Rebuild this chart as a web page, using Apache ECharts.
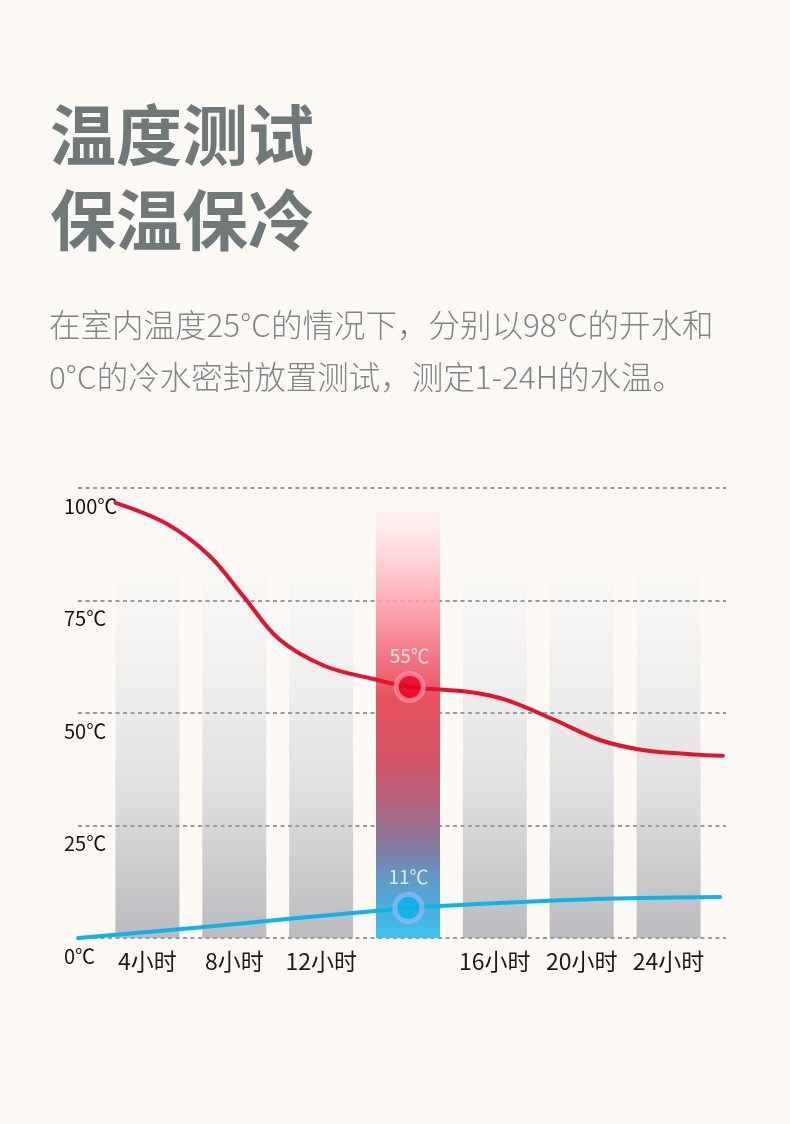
<!DOCTYPE html>
<html>
<head>
<meta charset="utf-8">
<script src="https://cdn.jsdelivr.net/npm/echarts@6/dist/echarts.min.js"></script>
<style>
html,body{margin:0;padding:0;background:#fdfaf6;}
#chart{width:790px;height:1124px;}
</style>
</head>
<body>
<div id="chart"></div>
<script>
// ---- data ----
const titleLines = ['温度测试', '保温保冷'];
const subtitleLines = ['在室内温度25°C的情况下，分别以98°C的开水和', '0°C的冷水密封放置测试，测定1-24H的水温。'];
const categories = ['4小时', '8小时', '12小时', '', '16小时', '20小时', '24小时'];
const grayBars = [88, 88, 88, '-', 88, 88, 88];
const highlightBar = ['-', '-', '-', 97, '-', '-', '-'];
const yTickLabels = ['0℃', '25℃', '50℃', '75℃', '100℃'];
// hot water curve: [hour, temperature]
const hotWater = [[1.4, 96.7], [3.3, 92.1], [4.9, 85.0], [6.2, 75.8], [7.5, 66.5],
  [9.2, 60.5], [11.0, 57.6], [12.4, 55.8], [14.7, 54.6], [16.0, 52.9],
  [17.8, 48.5], [19.5, 44.0], [21.1, 41.8], [23.0, 40.8], [24.1, 40.5]];
// cold water curve
const coldWater = [[0, 0], [4.6, 2.4], [7.8, 4.2], [11.5, 6.2], [12.3, 6.7], [18.0, 8.4], [21.1, 8.9], [24.0, 9.1]];
const markerPoints = [[12.4, 55.8], [12.35, 6.7]];
const markerLabels = ['55℃', '11℃'];

const FONT = '"Noto Sans CJK SC", "Noto Sans", sans-serif';
const chart = echarts.init(document.getElementById('chart'));

const grad = (stops) => new echarts.graphic.LinearGradient(0, 0, 0, 1, stops);

chart.setOption({
  backgroundColor: '#fdfaf6',
  animation: false,
  graphic: [
    { type: 'text', x: 50, y: 135, style: { text: titleLines[0], font: 'bold 66px ' + FONT, fill: '#6f7979', verticalAlign: 'middle' } },
    { type: 'text', x: 50, y: 220, style: { text: titleLines[1], font: 'bold 66px ' + FONT, fill: '#6f7979', verticalAlign: 'middle' } },
    { type: 'text', x: 49, y: 325, style: { text: subtitleLines[0], font: '300 31.5px ' + FONT, fill: '#7d8686', verticalAlign: 'middle' } },
    { type: 'text', x: 49, y: 377, style: { text: subtitleLines[1], font: '300 31.5px ' + FONT, fill: '#7d8686', verticalAlign: 'middle' } }
  ],
  grid: [
    { left: 104, right: 78, top: 488, bottom: 186 },
    { left: 78, right: 64, top: 488, bottom: 186 }
  ],
  xAxis: [
    {
      type: 'category', gridIndex: 0, data: categories,
      axisLine: { show: false }, axisTick: { show: false }, splitLine: { show: false },
      axisLabel: { fontSize: 23, color: '#1a1a1a', fontFamily: FONT, margin: 12, interval: 0 }
    },
    { type: 'value', gridIndex: 1, min: 0, max: 24.22, show: false }
  ],
  yAxis: [
    { type: 'value', gridIndex: 0, min: 0, max: 100, show: false },
    {
      type: 'value', gridIndex: 1, min: 0, max: 100, interval: 25, z: 3,
      axisLine: { show: false }, axisTick: { show: false },
      splitLine: { show: true, lineStyle: { color: '#9b9b9b', width: 2, type: [4, 3.5] } },
      axisLabel: {
        align: 'left', margin: 14, verticalAlign: 'top', padding: [8, 0, 0, 0],
        fontSize: 20, color: '#111111', fontFamily: FONT,
        formatter: (v) => yTickLabels[Math.round(v / 25)]
      }
    }
  ],
  series: [
    {
      type: 'bar', xAxisIndex: 0, yAxisIndex: 0, data: grayBars, barWidth: 64, barGap: '-100%', z: 2,
      itemStyle: {
        color: grad([
          { offset: 0, color: 'rgba(245,244,242,0)' },
          { offset: 0.2, color: 'rgba(245,244,243,0.85)' },
          { offset: 0.6, color: '#e2e2e3' },
          { offset: 1, color: '#bbbabe' }
        ])
      }
    },
    {
      type: 'bar', xAxisIndex: 0, yAxisIndex: 0, data: highlightBar, barWidth: 64, barGap: '-100%', z: 4,
      itemStyle: {
        color: grad([
          { offset: 0, color: 'rgba(255,235,238,0.1)' },
          { offset: 0.09, color: 'rgba(255,205,212,0.55)' },
          { offset: 0.225, color: 'rgba(255,160,172,0.85)' },
          { offset: 0.34, color: '#f47d89' },
          { offset: 0.45, color: '#e8525f' },
          { offset: 0.59, color: '#d25466' },
          { offset: 0.68, color: '#b7617a' },
          { offset: 0.775, color: '#8a7698' },
          { offset: 0.867, color: '#5c9bc9' },
          { offset: 1, color: '#3ec2ec' }
        ])
      }
    },
    {
      type: 'line', xAxisIndex: 1, yAxisIndex: 1, data: hotWater, smooth: 0.35,
      showSymbol: false, z: 5, lineStyle: { color: '#e3142f', width: 4, cap: 'round' }
    },
    {
      type: 'line', xAxisIndex: 1, yAxisIndex: 1, data: coldWater, smooth: 0.3,
      showSymbol: false, z: 5, lineStyle: { color: '#0fb3e8', width: 4, cap: 'round' }
    },
    {
      type: 'scatter', xAxisIndex: 1, yAxisIndex: 1, z: 6, symbolSize: 27,
      data: [
        { value: markerPoints[0], itemStyle: { color: '#e8001e', borderColor: 'rgba(240,150,168,0.9)', borderWidth: 5 } },
        { value: markerPoints[1], itemStyle: { color: '#08b1ea', borderColor: '#8cb6f2', borderWidth: 5 } }
      ],
      label: {
        show: true, position: 'top', distance: 6, color: '#ffffff', fontSize: 19, fontFamily: FONT,
        formatter: (p) => markerLabels[p.dataIndex]
      }
    }
  ]
});
</script>
</body>
</html>
